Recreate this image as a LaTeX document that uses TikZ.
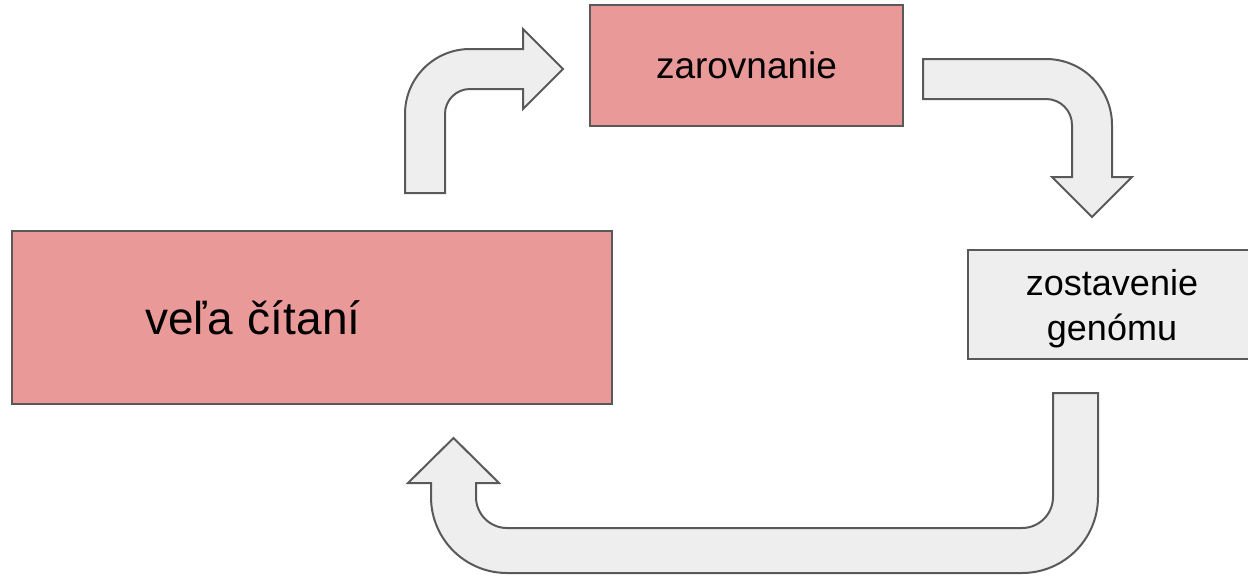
\documentclass[tikz,border=0pt]{standalone}
\usepackage{fontspec}
\setmainfont{Liberation Sans}
\definecolor{boxred}{HTML}{EA9999}
\definecolor{boxgray}{HTML}{EEEEEE}
\definecolor{edge}{HTML}{595959}
\tikzset{
  boxbase/.style={draw=edge, line width=2pt, rectangle, inner ysep=0pt, text depth=0pt},
  redbox/.style={boxbase, fill=boxred},
  graybox/.style={boxbase, fill=boxgray},
  blockarrow/.style={draw=edge, fill=boxgray, line width=2pt, line join=miter}
}
\begin{document}
\begin{tikzpicture}[x=1pt,y=-1pt]
\useasboundingbox (0,0) rectangle (1248,576);
% boxes
\node[redbox, minimum width=600pt, minimum height=173pt, inner xsep=133pt, text width=334pt, align=left,
      font=\fontsize{46}{55}\selectfont] (reads) at (312,317.5) {veľa čítaní};
\node[redbox, minimum width=313pt, minimum height=121pt, inner xsep=0pt,
      font=\fontsize{37}{44}\selectfont] (align) at (746.5,65.5) {zarovnanie};
\node[graybox, minimum width=288pt, minimum height=109pt, inner xsep=0pt, align=center,
      font=\fontsize{36}{45}\selectfont] (asm) at (1112,304.5) {zostavenie\\genómu};
% arrow: reads -> align
\draw[blockarrow] (405,193) -- (405,114)
  .. controls (405,78.1) and (434.1,49) .. (470,49)
  -- (523,49) -- (523,29) -- (563,69) -- (523,109) -- (523,89) -- (470,89)
  .. controls (456.2,89) and (445,100.2) .. (445,114)
  -- (445,193) -- cycle;
% arrow: align -> asm
\draw[blockarrow] (923,59) -- (1046,59)
  .. controls (1082.5,59) and (1112,88.5) .. (1112,125)
  -- (1112,177) -- (1132,177) -- (1092,217) -- (1052,177) -- (1072,177) -- (1072,125)
  .. controls (1072,110.6) and (1060.4,99) .. (1046,99)
  -- (923,99) -- cycle;
% arrow: asm -> reads
\draw[blockarrow] (1053,393) -- (1098,393) -- (1098,497)
  .. controls (1098,539) and (1064,573) .. (1022,573)
  -- (507,573)
  .. controls (465,573) and (431,539) .. (431,497)
  -- (431,483) -- (408,483) -- (453.5,438) -- (499,483) -- (476,483) -- (476,497)
  .. controls (476,514.1) and (489.9,528) .. (507,528)
  -- (1022,528)
  .. controls (1039.1,528) and (1053,514.1) .. (1053,497)
  -- cycle;
\end{tikzpicture}
\end{document}
